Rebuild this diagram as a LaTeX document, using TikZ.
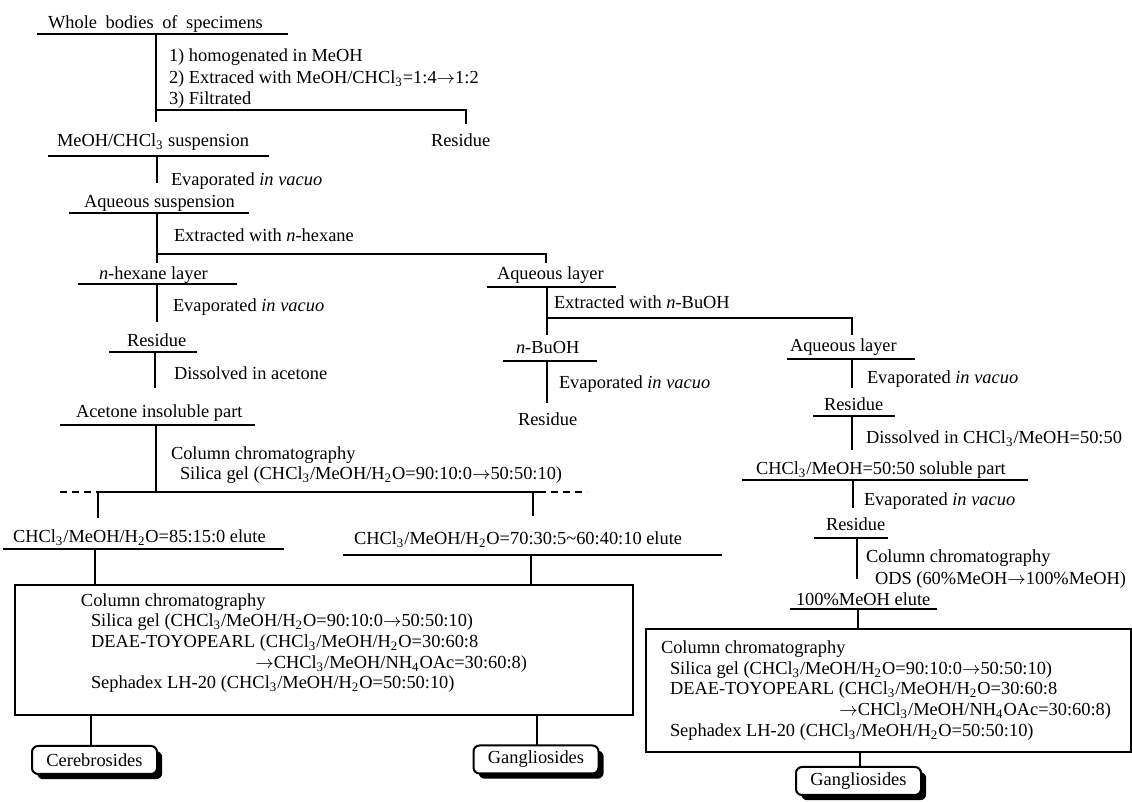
\documentclass[tikz,border=0pt]{standalone}
\usepackage{fontspec}
\setmainfont{Liberation Serif}
\usetikzlibrary{shadows}
\newcommand\figfont{\fontsize{9.2}{10.5}\selectfont}
\newcommand\sbs[1]{\textsubscript{#1}}
\newcommand\rar{\ensuremath{\rightarrow}}
\begin{document}
\begin{tikzpicture}[x=0.5pt,y=-0.5pt,line width=1pt,
  lbl/.style={inner sep=0pt,anchor=west,text height=0.68em,text depth=0pt,font=\figfont},
  lble/.style={lbl,anchor=east},
  endbox/.style={draw,rounded corners=3pt,fill=white,minimum width=62.5pt,minimum height=14pt,inner sep=0pt,font=\figfont,
    drop shadow={shadow xshift=2.6pt,shadow yshift=-2.6pt,fill=black,opacity=1}},
  frame/.style={draw,anchor=north west,inner sep=0pt},
  dsh/.style={dash pattern=on 3.5pt off 2.5pt}]
\useasboundingbox (0,0) rectangle (1132,802);
% ---------- left column ----------
\node[lbl] (t0) at (47,22) {Whole\hspace{2pt} bodies\hspace{2pt} of\hspace{2pt} specimens};
\draw (37,34) -- (288,34);
\node[lbl] (s1) at (168,55) {1) homogenated in MeOH};
\node[lbl] (s2) at (168,77) {2) Extraced with MeOH/CHCl\sbs{3}=1:4\rar1:2};
\node[lbl] (s3) at (168,98) {3) Filtrated};
\draw (156,34) -- (156,122);
\draw (156,110) -- (466,110) -- (466,124);
\node[lbl] (r0) at (430,140) {Residue};
\node[lbl] (t1) at (56,140) {MeOH/CHCl\sbs{3} suspension};
\draw (48,156) -- (269,156);
\draw (157,156) -- (157,183);
\node[lbl] (e1) at (170,179) {Evaporated \textit{in vacuo}};
\node[lbl] (t2) at (83,201) {Aqueous suspension};
\draw (69,213) -- (249,213);
\draw (157,213) -- (157,263);
\node[lbl] (x1) at (173,235) {Extracted with \textit{n}-hexane};
\draw (157,254) -- (546,254) -- (546,263);
\node[lbl] (t3) at (98,273) {\textit{n}-hexane layer};
\draw (78,284) -- (237,284);
\draw (157,284) -- (157,322);
\node[lbl] (e2) at (172,305) {Evaporated \textit{in vacuo}};
\node[lbl] (t4) at (126,340) {Residue};
\draw (109,352) -- (197,352);
\draw (155,352) -- (155,388);
\node[lbl] (d1) at (173,373) {Dissolved in acetone};
\node[lbl] (t5) at (75,411) {Acetone insoluble part};
\draw (60,425) -- (255,425);
\draw (156,425) -- (156,492);
\node[lbl] (c1) at (170,453) {Column chromatography};
\node[lbl] (c2) at (179,473) {Silica gel (CHCl\sbs{3}/MeOH/H\sbs{2}O=90:10:0\rar50:50:10)};
\draw[dsh] (60,492) -- (97,492);
\draw (97,492) -- (539,492);
\draw[dsh] (539,492) -- (587,492);
\draw (98,492) -- (98,518);
\draw (533,492) -- (533,516);
\node[lbl] (t6) at (12,536) {CHCl\sbs{3}/MeOH/H\sbs{2}O=85:15:0 elute};
\draw (3,549) -- (284,549);
\node[lbl] (t7) at (353,538) {CHCl\sbs{3}/MeOH/H\sbs{2}O=70:30:5\textasciitilde 60:40:10 elute};
\draw (343,555) -- (722,555);
\node[frame,minimum width=309pt,minimum height=65pt] (lbox) at (14,584) {};
\draw (95,549) -- (95,584);
\draw (531,555) -- (531,584);
\node[lbl] (b1) at (80,600) {Column chromatography};
\node[lbl] (b2) at (90,620) {Silica gel (CHCl\sbs{3}/MeOH/H\sbs{2}O=90:10:0\rar50:50:10)};
\node[lbl] (b3) at (90,641) {DEAE-TOYOPEARL (CHCl\sbs{3}/MeOH/H\sbs{2}O=30:60:8};
\node[lble] (b4) at (528,662) {\rar CHCl\sbs{3}/MeOH/NH\sbs{4}OAc=30:60:8)};
\node[lbl] (b5) at (90,682) {Sephadex LH-20 (CHCl\sbs{3}/MeOH/H\sbs{2}O=50:50:10)};
\node[endbox] (cer) at (94.5,760) {Cerebrosides};
\node[endbox] (gan1) at (536,759.5) {Gangliosides};
\draw (91,714) -- (91,746);
\draw (537,714) -- (537,745.5);
% ---------- middle column ----------
\node[lbl] (a1) at (496,273) {Aqueous layer};
\draw (487,287) -- (616,287);
\draw (547,287) -- (547,335);
\node[lbl] (x2) at (553,302) {Extracted with \textit{n}-BuOH};
\draw (547,318) -- (852,318) -- (852,335);
\node[lbl] (bu) at (515,347) {\textit{n}-BuOH};
\draw (503,361) -- (597,361);
\draw (547,361) -- (547,403);
\node[lbl] (e3) at (558,382) {Evaporated \textit{in vacuo}};
\node[lbl] (r1) at (517,419) {Residue};
% ---------- right column ----------
\node[lbl] (a2) at (789,345) {Aqueous layer};
\draw (787,359) -- (915,359);
\draw (852,359) -- (852,388);
\node[lbl] (e4) at (866,377) {Evaporated \textit{in vacuo}};
\node[lbl] (r2) at (823,404) {Residue};
\draw (813,416) -- (895,416);
\draw (852,416) -- (852,450);
\node[lbl] (d2) at (865,437) {Dissolved in CHCl\sbs{3}/MeOH=50:50};
\node[lbl] (sp) at (755,468) {CHCl\sbs{3}/MeOH=50:50 soluble part};
\draw (742,480) -- (1028,480);
\draw (853,480) -- (853,508);
\node[lbl] (e5) at (863,499) {Evaporated \textit{in vacuo}};
\node[lbl] (r3) at (825,524) {Residue};
\draw (814,538) -- (888,538);
\draw (857,538) -- (857,579);
\node[lbl] (c3) at (865,556) {Column chromatography};
\node[lbl] (c4) at (874,578) {ODS (60\%MeOH\rar100\%MeOH)};
\node[lbl] (me) at (795,599) {100\%MeOH elute};
\draw (790,609) -- (937,609);
\node[frame,minimum width=242.5pt,minimum height=61.5pt] (rbox) at (645,628) {};
\draw (858,609) -- (858,628);
\node[lbl] (f1) at (660,647) {Column chromatography};
\node[lbl] (f2) at (669,668) {Silica gel (CHCl\sbs{3}/MeOH/H\sbs{2}O=90:10:0\rar50:50:10)};
\node[lbl] (f3) at (669,688) {DEAE-TOYOPEARL (CHCl\sbs{3}/MeOH/H\sbs{2}O=30:60:8};
\node[lble] (f4) at (1112,709) {\rar CHCl\sbs{3}/MeOH/NH\sbs{4}OAc=30:60:8)};
\node[lbl] (f5) at (669,730) {Sephadex LH-20 (CHCl\sbs{3}/MeOH/H\sbs{2}O=50:50:10)};
\node[endbox] (gan2) at (858.5,781) {Gangliosides};
\draw (860,751) -- (860,767);
\end{tikzpicture}
\end{document}
